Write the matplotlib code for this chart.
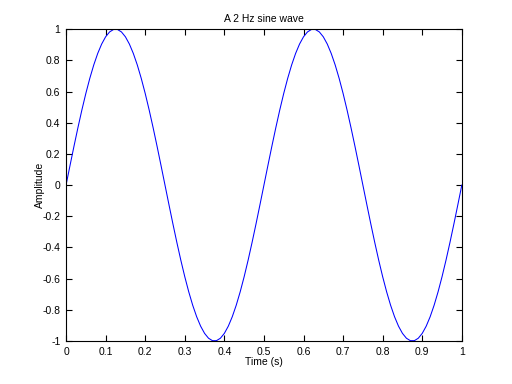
import matplotlib
matplotlib.use("Agg")
import matplotlib.pyplot as plt
from matplotlib.ticker import FormatStrFormatter

plt.rcParams['font.family'] = ['Liberation Sans', 'DejaVu Sans']

# time samples (s), read at 0.01 s spacing
time_s = [round(i * 0.01, 2) for i in range(101)]
amplitude = ([0.0, 0.1253, 0.2487, 0.3681, 0.4818, 0.5878, 0.6845, 0.7705, 0.8443,
              0.9048, 0.9511, 0.9823, 0.9980, 0.9980, 0.9823, 0.9511, 0.9048, 0.8443,
              0.7705, 0.6845, 0.5878, 0.4818, 0.3681, 0.2487, 0.1253,
              0.0, -0.1253, -0.2487, -0.3681, -0.4818, -0.5878, -0.6845, -0.7705, -0.8443,
              -0.9048, -0.9511, -0.9823, -0.9980, -0.9980, -0.9823, -0.9511, -0.9048, -0.8443,
              -0.7705, -0.6845, -0.5878, -0.4818, -0.3681, -0.2487, -0.1253] * 2) + [0.0]

x_ticks = [0, 0.1, 0.2, 0.3, 0.4, 0.5, 0.6, 0.7, 0.8, 0.9, 1]
y_ticks = [-1, -0.8, -0.6, -0.4, -0.2, 0, 0.2, 0.4, 0.6, 0.8, 1]

fig = plt.figure(figsize=(5.12, 3.84), dpi=100)
ax = fig.add_axes([0.129, 0.112, 0.773, 0.812])
ax.plot(time_s, amplitude, color=(0, 0, 1), lw=0.75)
ax.set_xlim(0, 1)
ax.set_ylim(-1, 1)
ax.set_xticks(x_ticks)
ax.set_yticks(y_ticks)
ax.xaxis.set_major_formatter(FormatStrFormatter('%g'))
ax.yaxis.set_major_formatter(FormatStrFormatter('%g'))
ax.tick_params(direction='in', length=4, width=0.8, labelsize=7.5, top=True, right=True, pad=4)
for s in ax.spines.values():
    s.set_linewidth(0.8)
ax.set_title('A 2 Hz sine wave', fontsize=7.5, pad=5)
ax.set_xlabel('Time (s)', fontsize=7.5, labelpad=0)
ax.set_ylabel('Amplitude', fontsize=7.5, labelpad=-2)
fig.savefig('out.png', dpi=100)
